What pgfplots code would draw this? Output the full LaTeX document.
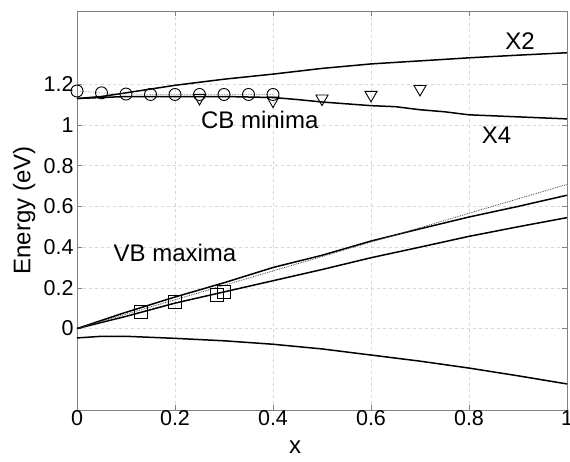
\documentclass[border=0pt]{standalone}
\usepackage{fontspec}
\setmainfont{Liberation Sans}
\usepackage{pgfplots}
\pgfplotsset{compat=1.18}

\definecolor{gridgray}{RGB}{215,215,215}
\definecolor{boxgray}{RGB}{130,130,130}

\begin{document}
\begin{tikzpicture}
\path[use as bounding box] (-77pt,-51pt) rectangle (493pt,410pt);
\begin{axis}[
  at={(0pt,0pt)}, anchor=south west,
  scale only axis, width=490pt, height=399pt,
  xmin=0, xmax=1, ymin=-0.4, ymax=1.56,
  xtick={0,0.2,...,1}, ytick={0,0.2,...,1.2},
  /pgf/number format/assume math mode=true,
  tick label style={font=\fontsize{21.5}{24}\selectfont},
  xticklabel style={yshift=3pt},
  tick align=inside, tick pos=both,
  major tick length=5pt,
  tick style={boxgray, line width=0.6pt},
  axis line style={boxgray, line width=0.8pt},
  grid=major,
  major grid style={gridgray, dashed, line width=0.6pt},
  xlabel={x}, ylabel={Energy (eV)},
  label style={font=\fontsize{24}{28}\selectfont},
  xlabel style={at={(axis description cs:0.445,0)}, anchor=north, yshift=-30pt, inner sep=1pt},
  ylabel style={at={(axis description cs:0,0.5)}, anchor=south, yshift=38pt},
  clip=false,
]
% X2 conduction band
\addplot[black, line width=1.5pt] coordinates {
  (0,1.13) (0.05,1.14) (0.1,1.158) (0.2,1.195) (0.3,1.225) (0.4,1.25)
  (0.5,1.278) (0.6,1.3) (0.7,1.315) (0.8,1.33) (0.9,1.343) (1,1.355)};
% X4 conduction band
\addplot[black, line width=1.5pt] coordinates {
  (0,1.13) (0.05,1.135) (0.1,1.14) (0.2,1.14) (0.3,1.14) (0.4,1.135)
  (0.45,1.125) (0.5,1.113) (0.6,1.095) (0.65,1.09) (0.7,1.075)
  (0.75,1.065) (0.8,1.05) (0.9,1.04) (1,1.03)};
% measured CB minima (circles)
\addplot[gray, densely dotted, line width=0.6pt, mark=o,
  mark options={solid, black, line width=0.9pt}, mark size=6pt] coordinates {
  (0,1.167) (0.05,1.158) (0.1,1.152) (0.15,1.15) (0.2,1.15)
  (0.25,1.15) (0.3,1.15) (0.35,1.15) (0.4,1.15)};
% measured CB minima (triangles)
\addplot[only marks, mark=triangle, mark options={rotate=180, black, line width=0.9pt},
  mark size=7pt] coordinates {
  (0.25,1.133) (0.4,1.12) (0.5,1.13) (0.6,1.148) (0.7,1.177)};
% valence band maxima
\addplot[black, line width=1.5pt] coordinates {
  (0,0) (0.1,0.08) (0.2,0.155) (0.3,0.225) (0.4,0.3) (0.5,0.36)
  (0.6,0.43) (0.7,0.49) (0.8,0.548) (0.9,0.6) (1,0.655)};
\addplot[black, line width=1.5pt] coordinates {
  (0,0) (0.1,0.06) (0.2,0.125) (0.3,0.18) (0.4,0.235) (0.5,0.29)
  (0.6,0.348) (0.7,0.4) (0.8,0.453) (0.9,0.5) (1,0.545)};
\addplot[black!75, densely dotted, line width=0.8pt] coordinates {
  (0,0) (1,0.708)};
\addplot[black, line width=1.5pt] coordinates {
  (0,-0.046) (0.05,-0.038) (0.1,-0.038) (0.2,-0.048) (0.3,-0.06)
  (0.4,-0.077) (0.5,-0.1) (0.6,-0.13) (0.7,-0.16) (0.8,-0.194)
  (0.9,-0.232) (1,-0.272)};
% measured VB maxima (squares)
\addplot[only marks, mark=square, mark options={black, line width=0.9pt},
  mark size=6.5pt] coordinates {
  (0.13,0.08) (0.2,0.13) (0.285,0.166) (0.3,0.179)};
% annotations
\node[font=\fontsize{24}{28}\selectfont] at (axis cs:0.904,1.41) {X2};
\node[font=\fontsize{24}{28}\selectfont] at (axis cs:0.856,0.95) {X4};
\node[font=\fontsize{24}{28}\selectfont] at (axis cs:0.373,1.025) {CB minima};
\node[font=\fontsize{24}{28}\selectfont] at (axis cs:0.2,0.37) {VB maxima};
\end{axis}
\end{tikzpicture}
\end{document}
